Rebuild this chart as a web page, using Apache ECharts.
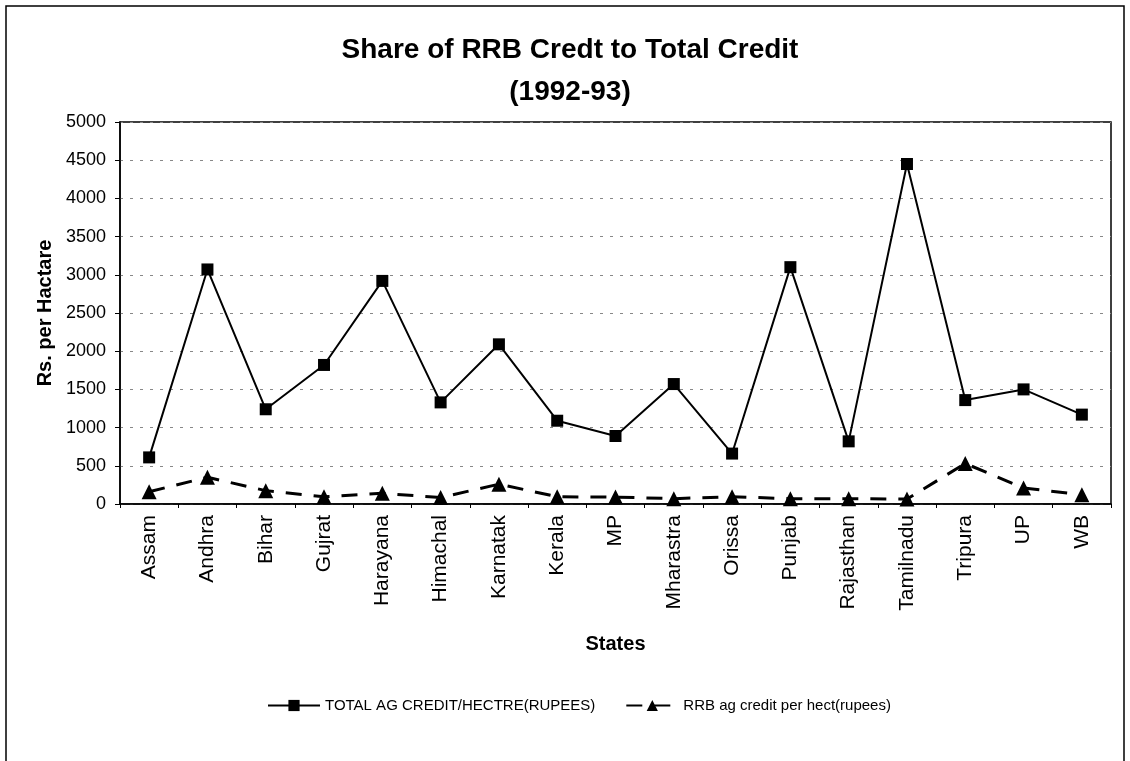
<!DOCTYPE html>
<html>
<head>
<meta charset="utf-8">
<script src="https://cdn.jsdelivr.net/npm/echarts@6/dist/echarts.min.js"></script>
<style>
html,body{margin:0;padding:0;background:#fff;}
#chart{width:1130px;height:761px;}
</style>
</head>
<body>
<div id="chart"></div>
<script>
const states = ['Assam','Andhra','Bihar','Gujrat','Harayana','Himachal','Karnatak','Kerala','MP','Mharastra','Orissa','Punjab','Rajasthan','Tamilnadu','Tripura','UP','WB'];
const totalCredit = [610, 3070, 1240, 1820, 2920, 1330, 2090, 1090, 890, 1570, 660, 3100, 820, 4450, 1360, 1500, 1170];
const rrbCredit = [160, 350, 175, 95, 140, 85, 260, 95, 90, 70, 95, 70, 70, 65, 530, 210, 120];
const yTicks = [0, 500, 1000, 1500, 2000, 2500, 3000, 3500, 4000, 4500, 5000];
const seriesNames = ['TOTAL AG CREDIT/HECTRE(RUPEES)', 'RRB ag credit per hect(rupees)'];

const font = '"Liberation Sans", Arial, sans-serif';
const chart = echarts.init(document.getElementById('chart'), null, {renderer: 'canvas'});
chart.setOption({
  backgroundColor: '#fff',
  animation: false,
  graphic: [
    {type: 'rect', shape: {x: 6, y: 6, width: 1118, height: 770}, style: {fill: 'none', stroke: '#000', lineWidth: 1.5}, z: -1}
  ],
  title: {
    text: 'Share of RRB Credt to Total Credit\n(1992-93)',
    left: 565, top: 24, textAlign: 'center',
    textStyle: {fontFamily: font, fontSize: 28, fontWeight: 'bold', color: '#000', lineHeight: 42}
  },
  legend: {
    data: [seriesNames[0], seriesNames[1]],
    left: 262, top: 693,
    itemWidth: 52, itemHeight: 14, itemGap: 30,
    textStyle: {fontFamily: font, fontSize: 15, color: '#000'}
  },
  grid: {left: 120, top: 122, width: 991, height: 382, show: true, borderColor: '#000', borderWidth: 1.5, containLabel: false},
  xAxis: {
    type: 'category', data: states, boundaryGap: true,
    name: 'States', nameLocation: 'middle', nameGap: 130,
    nameTextStyle: {fontFamily: font, fontSize: 20, fontWeight: 'bold', color: '#000'},
    axisLine: {lineStyle: {color: '#000', width: 1.5}},
    axisTick: {show: true, length: 4, lineStyle: {color: '#000'}},
    axisLabel: {rotate: 90, fontFamily: font, fontSize: 21, color: '#000', margin: 11, interval: 0}
  },
  yAxis: {
    type: 'value', min: yTicks[0], max: yTicks[yTicks.length - 1], interval: 500,
    name: 'Rs. per Hactare', nameLocation: 'middle', nameGap: 62, nameRotate: 90,
    nameTextStyle: {fontFamily: font, fontSize: 20, fontWeight: 'bold', color: '#000'},
    axisLine: {show: true, lineStyle: {color: '#000', width: 1.5}},
    axisTick: {show: true, length: 5, lineStyle: {color: '#000'}},
    axisLabel: {fontFamily: font, fontSize: 18, color: '#000', margin: 14, formatter: v => String(v)},
    splitLine: {show: true, lineStyle: {color: '#888', type: [3, 7], width: 1}}
  },
  series: [
    {
      name: seriesNames[0], type: 'line', data: totalCredit,
      symbol: 'rect', symbolSize: 12,
      lineStyle: {color: '#000', width: 2},
      itemStyle: {color: '#000'}
    },
    {
      name: seriesNames[1], type: 'line', data: rrbCredit,
      symbol: 'triangle', symbolSize: 15,
      lineStyle: {color: '#000', width: 3, type: [16, 12]},
      itemStyle: {color: '#000'}
    }
  ]
});
</script>
</body>
</html>
